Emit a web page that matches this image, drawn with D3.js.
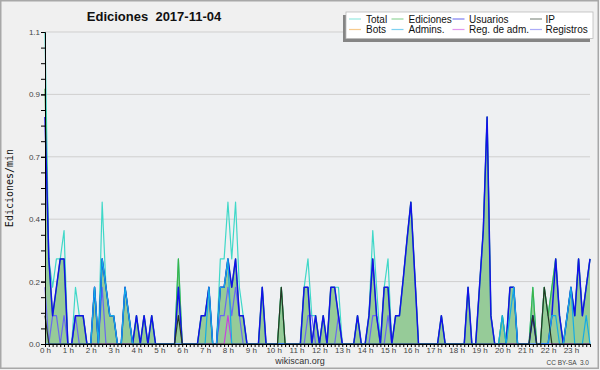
<!DOCTYPE html>
<html>
<head>
<meta charset="utf-8">
<title>Ediciones 2017-11-04</title>
<script src="https://d3js.org/d3.v7.min.js"></script>
<style>
    body { margin: 0; background: #f0f0f0; }
    svg { display: block; }
    .axis text { font-family: "Liberation Sans", Arial, sans-serif; font-size: 8px; fill: #444; }
    .axis path, .axis line { stroke: #000; }
</style>
</head>
<body>
<svg id="chart"></svg>
<script>

// one value every 10 minutes, 144 per day (edits per minute)
var total = [
    1.1, 0.3, 0.2, 0.3, 0.3, 0.4, 0, 0, 0.2, 0.1, 0.1, 0,
    0, 0.2, 0, 0.5, 0.2, 0.1, 0.1, 0, 0, 0.2, 0.1, 0,
    0.1, 0, 0.1, 0, 0.1, 0, 0, 0, 0, 0, 0, 0.3,
    0, 0, 0, 0, 0, 0.1, 0.1, 0.2, 0, 0, 0.3, 0.3,
    0.5, 0.3, 0.5, 0.2, 0.1, 0, 0, 0, 0, 0.2, 0, 0,
    0, 0, 0.2, 0, 0, 0, 0, 0, 0.2, 0.3, 0.1, 0.1,
    0, 0.1, 0, 0.2, 0.2, 0.2, 0, 0, 0, 0, 0.1, 0,
    0, 0.1, 0.4, 0.2, 0, 0.2, 0.3, 0, 0.1, 0.1, 0.23, 0.37,
    0.5, 0.25, 0, 0, 0, 0, 0, 0, 0.1, 0, 0, 0,
    0, 0, 0, 0.2, 0, 0, 0.2, 0.4, 0.8, 0.1, 0, 0,
    0.1, 0, 0.2, 0.2, 0, 0, 0, 0, 0.2, 0, 0, 0.2,
    0.1, 0.2, 0.3, 0.1, 0, 0.1, 0.2, 0.1, 0.3, 0.1, 0.2, 0.3
];
var ediciones = [
    0.9, 0.3, 0.1, 0.2, 0.3, 0.3, 0, 0, 0.1, 0.1, 0.1, 0,
    0, 0.2, 0, 0.3, 0.2, 0.1, 0.1, 0, 0, 0.2, 0.1, 0,
    0.1, 0, 0.1, 0, 0.1, 0, 0, 0, 0, 0, 0, 0.3,
    0, 0, 0, 0, 0, 0.1, 0.1, 0.2, 0, 0, 0.2, 0.2,
    0.3, 0.2, 0.3, 0.1, 0.1, 0, 0, 0, 0, 0.2, 0, 0,
    0, 0, 0.2, 0, 0, 0, 0, 0, 0.2, 0.2, 0, 0.1,
    0, 0.1, 0, 0.2, 0.2, 0.1, 0, 0, 0, 0, 0.1, 0,
    0, 0.1, 0.3, 0.1, 0, 0.2, 0.2, 0, 0.1, 0.1, 0.23, 0.37,
    0.5, 0.25, 0, 0, 0, 0, 0, 0, 0.1, 0, 0, 0,
    0, 0, 0, 0.2, 0, 0, 0.2, 0.4, 0.8, 0.1, 0, 0,
    0.1, 0, 0.2, 0.2, 0, 0, 0, 0, 0.2, 0, 0, 0.2,
    0.1, 0.2, 0.3, 0.1, 0, 0.1, 0.2, 0.1, 0.3, 0.1, 0.2, 0.3
];
var usuarios = [
    0.8, 0.3, 0.1, 0.2, 0.3, 0.3, 0, 0, 0.1, 0.1, 0.1, 0,
    0, 0.2, 0, 0.3, 0.2, 0.1, 0.1, 0, 0, 0.2, 0.1, 0,
    0.1, 0, 0.1, 0, 0.1, 0, 0, 0, 0, 0, 0, 0.2,
    0, 0, 0, 0, 0, 0.1, 0.1, 0.2, 0, 0, 0.2, 0.2,
    0.3, 0.2, 0.3, 0.1, 0.1, 0, 0, 0, 0, 0.2, 0, 0,
    0, 0, 0, 0, 0, 0, 0, 0, 0.2, 0.2, 0, 0.1,
    0, 0.1, 0, 0.2, 0.2, 0.1, 0, 0, 0, 0, 0.1, 0,
    0, 0.1, 0.3, 0.1, 0, 0.2, 0.2, 0, 0.1, 0.1, 0.23, 0.37,
    0.5, 0.25, 0, 0, 0, 0, 0, 0, 0.1, 0, 0, 0,
    0, 0, 0, 0.2, 0, 0, 0.2, 0.4, 0.8, 0.1, 0, 0,
    0, 0, 0.2, 0.2, 0, 0, 0, 0, 0.1, 0, 0, 0,
    0, 0.1, 0.3, 0.1, 0, 0.1, 0.2, 0.1, 0.3, 0.1, 0.2, 0.3
];
var ip = [
    0.1, 0, 0, 0, 0, 0, 0, 0, 0, 0, 0, 0,
    0, 0, 0, 0, 0, 0, 0, 0, 0, 0, 0, 0,
    0, 0, 0, 0, 0, 0, 0, 0, 0, 0, 0, 0.1,
    0, 0, 0, 0, 0, 0, 0, 0, 0, 0, 0, 0,
    0, 0, 0, 0, 0, 0, 0, 0, 0, 0, 0, 0,
    0, 0, 0.2, 0, 0, 0, 0, 0, 0, 0, 0, 0,
    0, 0, 0, 0, 0, 0, 0, 0, 0, 0, 0, 0,
    0, 0, 0, 0, 0, 0, 0, 0, 0, 0, 0, 0,
    0, 0, 0, 0, 0, 0, 0, 0, 0, 0, 0, 0,
    0, 0, 0, 0, 0, 0, 0, 0, 0, 0, 0, 0,
    0, 0, 0, 0, 0, 0, 0, 0, 0.1, 0, 0, 0.2,
    0.1, 0, 0, 0, 0, 0, 0, 0, 0, 0, 0, 0
];
var admins = [
    0, 0, 0, 0, 0, 0, 0, 0, 0, 0, 0, 0,
    0, 0.2, 0, 0.3, 0.2, 0.1, 0.1, 0, 0, 0.2, 0.1, 0,
    0, 0, 0, 0, 0, 0, 0, 0, 0, 0, 0, 0,
    0, 0, 0, 0, 0, 0, 0, 0.2, 0, 0, 0.2, 0.2,
    0.3, 0, 0, 0, 0, 0, 0, 0, 0, 0, 0, 0,
    0, 0, 0, 0, 0, 0, 0, 0, 0, 0, 0, 0,
    0, 0, 0, 0, 0, 0, 0, 0, 0, 0, 0, 0,
    0, 0, 0, 0, 0, 0, 0, 0, 0, 0, 0, 0,
    0, 0, 0, 0, 0, 0, 0, 0, 0, 0, 0, 0,
    0, 0, 0, 0, 0, 0, 0, 0, 0, 0, 0, 0,
    0.1, 0, 0.1, 0.2, 0, 0, 0, 0, 0, 0, 0, 0,
    0, 0.1, 0.1, 0, 0, 0.1, 0.2, 0, 0, 0, 0.1, 0
];
var registros = [
    0.2, 0, 0.1, 0.1, 0, 0.1, 0, 0, 0.1, 0, 0, 0,
    0, 0, 0, 0.2, 0, 0, 0, 0, 0, 0, 0, 0,
    0, 0, 0, 0, 0, 0, 0, 0, 0, 0, 0, 0,
    0, 0, 0, 0, 0, 0, 0, 0, 0, 0, 0.1, 0.1,
    0.2, 0.1, 0.2, 0.1, 0, 0, 0, 0, 0, 0, 0, 0,
    0, 0, 0, 0, 0, 0, 0, 0, 0, 0.1, 0.1, 0,
    0, 0, 0, 0, 0, 0.1, 0, 0, 0, 0, 0, 0,
    0, 0, 0.1, 0.1, 0, 0, 0.1, 0, 0, 0, 0, 0,
    0, 0, 0, 0, 0, 0, 0, 0, 0, 0, 0, 0,
    0, 0, 0, 0, 0, 0, 0, 0, 0, 0, 0, 0,
    0, 0, 0, 0, 0, 0, 0, 0, 0, 0, 0, 0,
    0, 0, 0, 0, 0, 0, 0, 0, 0, 0, 0, 0
];
var regAdm = [
    0, 0, 0, 0, 0, 0, 0, 0, 0, 0, 0, 0,
    0, 0, 0, 0, 0, 0, 0, 0, 0, 0, 0, 0,
    0, 0, 0, 0, 0, 0, 0, 0, 0, 0, 0, 0,
    0, 0, 0, 0, 0, 0, 0, 0, 0, 0, 0, 0,
    0.1, 0, 0, 0, 0, 0, 0, 0, 0, 0, 0, 0,
    0, 0, 0, 0, 0, 0, 0, 0, 0, 0, 0, 0,
    0, 0, 0, 0, 0, 0, 0, 0, 0, 0, 0, 0,
    0, 0, 0, 0, 0, 0, 0, 0, 0, 0, 0, 0,
    0, 0, 0, 0, 0, 0, 0, 0, 0, 0, 0, 0,
    0, 0, 0, 0, 0, 0, 0, 0, 0, 0, 0, 0,
    0, 0, 0, 0, 0, 0, 0, 0, 0, 0, 0, 0,
    0, 0, 0, 0, 0, 0, 0, 0, 0, 0, 0, 0
];

var yTicks = [0, 0.22, 0.44, 0.66, 0.88, 1.1];
var yMax = 1.1;
var hours = d3.range(0, 24);

var legendRows = [
    ["Total", "Ediciones", "Usuarios", "IP"],
    ["Bots", "Admins.", "Reg. de adm.", "Registros"]
];

var colors = {
    "Total": "#3fd8c8",
    "Ediciones": "#3cb44a",
    "Usuarios": "#1212e8",
    "IP": "#263626",
    "Bots": "#f0a030",
    "Admins.": "#14ace6",
    "Reg. de adm.": "#c842e0",
    "Registros": "#6868f2"
};

var width = 600, height = 370;
var plot = {left: 45, right: 590, top: 32, bottom: 344};

var svg = d3.select("#chart")
    .attr("width", width)
    .attr("height", height);

// frame
svg.append("rect")
    .attr("x", 0.75).attr("y", 0.75)
    .attr("width", width - 2.5).attr("height", height - 2.5)
    .attr("fill", "#f0f0f0")
    .attr("stroke", "#a8a8a8")
    .attr("stroke-width", 1.5);

svg.append("rect")
    .attr("x", plot.left).attr("y", plot.top)
    .attr("width", plot.right - plot.left).attr("height", plot.bottom - plot.top)
    .attr("fill", "#eef0f2");

var x = d3.scaleLinear()
    .domain([0, total.length - 1])
    .range([plot.left, plot.right]);

var y = d3.scaleLinear()
    .domain([0, yMax])
    .range([plot.bottom, plot.top]);

// grid
svg.append("g").selectAll("line")
    .data(yTicks.slice(1))
    .enter().append("line")
    .attr("x1", plot.left).attr("x2", plot.right)
    .attr("y1", function(d) { return y(d); })
    .attr("y2", function(d) { return y(d); })
    .attr("stroke", "#cfcfcf")
    .attr("stroke-width", 1);

var area = d3.area()
    .x(function(d, i) { return x(i); })
    .y0(y(0))
    .y1(function(d) { return y(d); });

var line = d3.line()
    .x(function(d, i) { return x(i); })
    .y(function(d) { return y(d); });

var shapes = svg.append("g");

shapes.append("path")
    .datum(ediciones)
    .attr("d", area)
    .attr("fill", "#96cb98");

function drawLine(data, color, w) {
    shapes.append("path")
        .datum(data)
        .attr("d", line)
        .attr("fill", "none")
        .attr("stroke", color)
        .attr("stroke-width", w)
        .attr("stroke-linejoin", "round");
}

drawLine(total, colors["Total"], 1.2);
drawLine(ediciones, colors["Ediciones"], 1.2);
drawLine(registros, colors["Registros"], 1.2);
drawLine(regAdm, colors["Reg. de adm."], 1.2);
drawLine(usuarios, colors["Usuarios"], 1.5);
drawLine(admins, colors["Admins."], 1.2);
drawLine(ip, colors["IP"], 1.2);

// axes
var yAxis = d3.axisLeft(y)
    .tickValues(yTicks)
    .tickFormat(d3.format(".1f"))
    .tickSize(4)
    .tickSizeOuter(0)
    .tickPadding(1);

var yMinor = d3.axisLeft(y)
    .tickValues(d3.range(0, 21).map(function(k) { return k * yMax / 20; }))
    .tickFormat("")
    .tickSize(4)
    .tickSizeOuter(0);

svg.append("g")
    .attr("class", "axis")
    .attr("transform", "translate(" + plot.left + ",0)")
    .call(yMinor);

svg.append("g")
    .attr("class", "axis")
    .attr("transform", "translate(" + plot.left + ",0)")
    .call(yAxis);

var xAxis = d3.axisBottom(x)
    .tickValues(d3.range(0, total.length))
    .tickFormat(function(d) { return d % 6 === 0 ? hours[d / 6] + " h" : ""; })
    .tickSize(3)
    .tickSizeOuter(0)
    .tickPadding(0);

svg.append("g")
    .attr("class", "axis")
    .attr("transform", "translate(0," + plot.bottom + ")")
    .call(xAxis);

// titles
svg.append("text")
    .attr("x", 154).attr("y", 21)
    .attr("text-anchor", "middle")
    .attr("font-family", "'Liberation Sans', Arial, sans-serif")
    .attr("font-size", 13)
    .attr("font-weight", "bold")
    .attr("fill", "#111")
    .style("white-space", "pre")
    .text("Ediciones  2017-11-04");

svg.append("text")
    .attr("transform", "translate(13,188) rotate(-90)")
    .attr("text-anchor", "middle")
    .attr("font-family", "'DejaVu Sans Mono', monospace")
    .attr("font-size", 10)
    .attr("fill", "#111")
    .text("Ediciones/min");

svg.append("text")
    .attr("x", 300).attr("y", 364)
    .attr("text-anchor", "middle")
    .attr("font-family", "'Liberation Sans', Arial, sans-serif")
    .attr("font-size", 9)
    .attr("fill", "#333")
    .text("wikiscan.org");

svg.append("text")
    .attr("x", 589).attr("y", 365)
    .attr("text-anchor", "end")
    .attr("font-family", "'Liberation Sans', Arial, sans-serif")
    .attr("font-size", 6.5)
    .attr("fill", "#444")
    .style("white-space", "pre")
    .text("CC BY-SA  3.0");

// legend
var legend = svg.append("g");
legend.append("rect")
    .attr("x", 343).attr("y", 15).attr("width", 247).attr("height", 27)
    .attr("fill", "#858585");
legend.append("rect")
    .attr("x", 346).attr("y", 12).attr("width", 247).attr("height", 26.5)
    .attr("fill", "#fff")
    .attr("stroke", "#bbb")
    .attr("stroke-width", 0.8);

var colSwatch = [349, 391.5, 452.5, 530];
var colText = [366, 408.5, 469, 545.5];
var rowY = [19, 29.5];

legendRows.forEach(function(row, r) {
    row.forEach(function(name, c) {
        legend.append("line")
            .attr("x1", colSwatch[c]).attr("x2", colSwatch[c] + 12)
            .attr("y1", rowY[r]).attr("y2", rowY[r])
            .attr("stroke", colors[name])
            .attr("stroke-opacity", 0.55)
            .attr("stroke-width", 1.2);
        legend.append("text")
            .attr("x", colText[c]).attr("y", rowY[r] + 3.5)
            .attr("font-family", "'Liberation Sans', Arial, sans-serif")
            .attr("font-size", 10)
            .attr("fill", "#111")
            .text(name);
    });
});

</script>
</body>
</html>
